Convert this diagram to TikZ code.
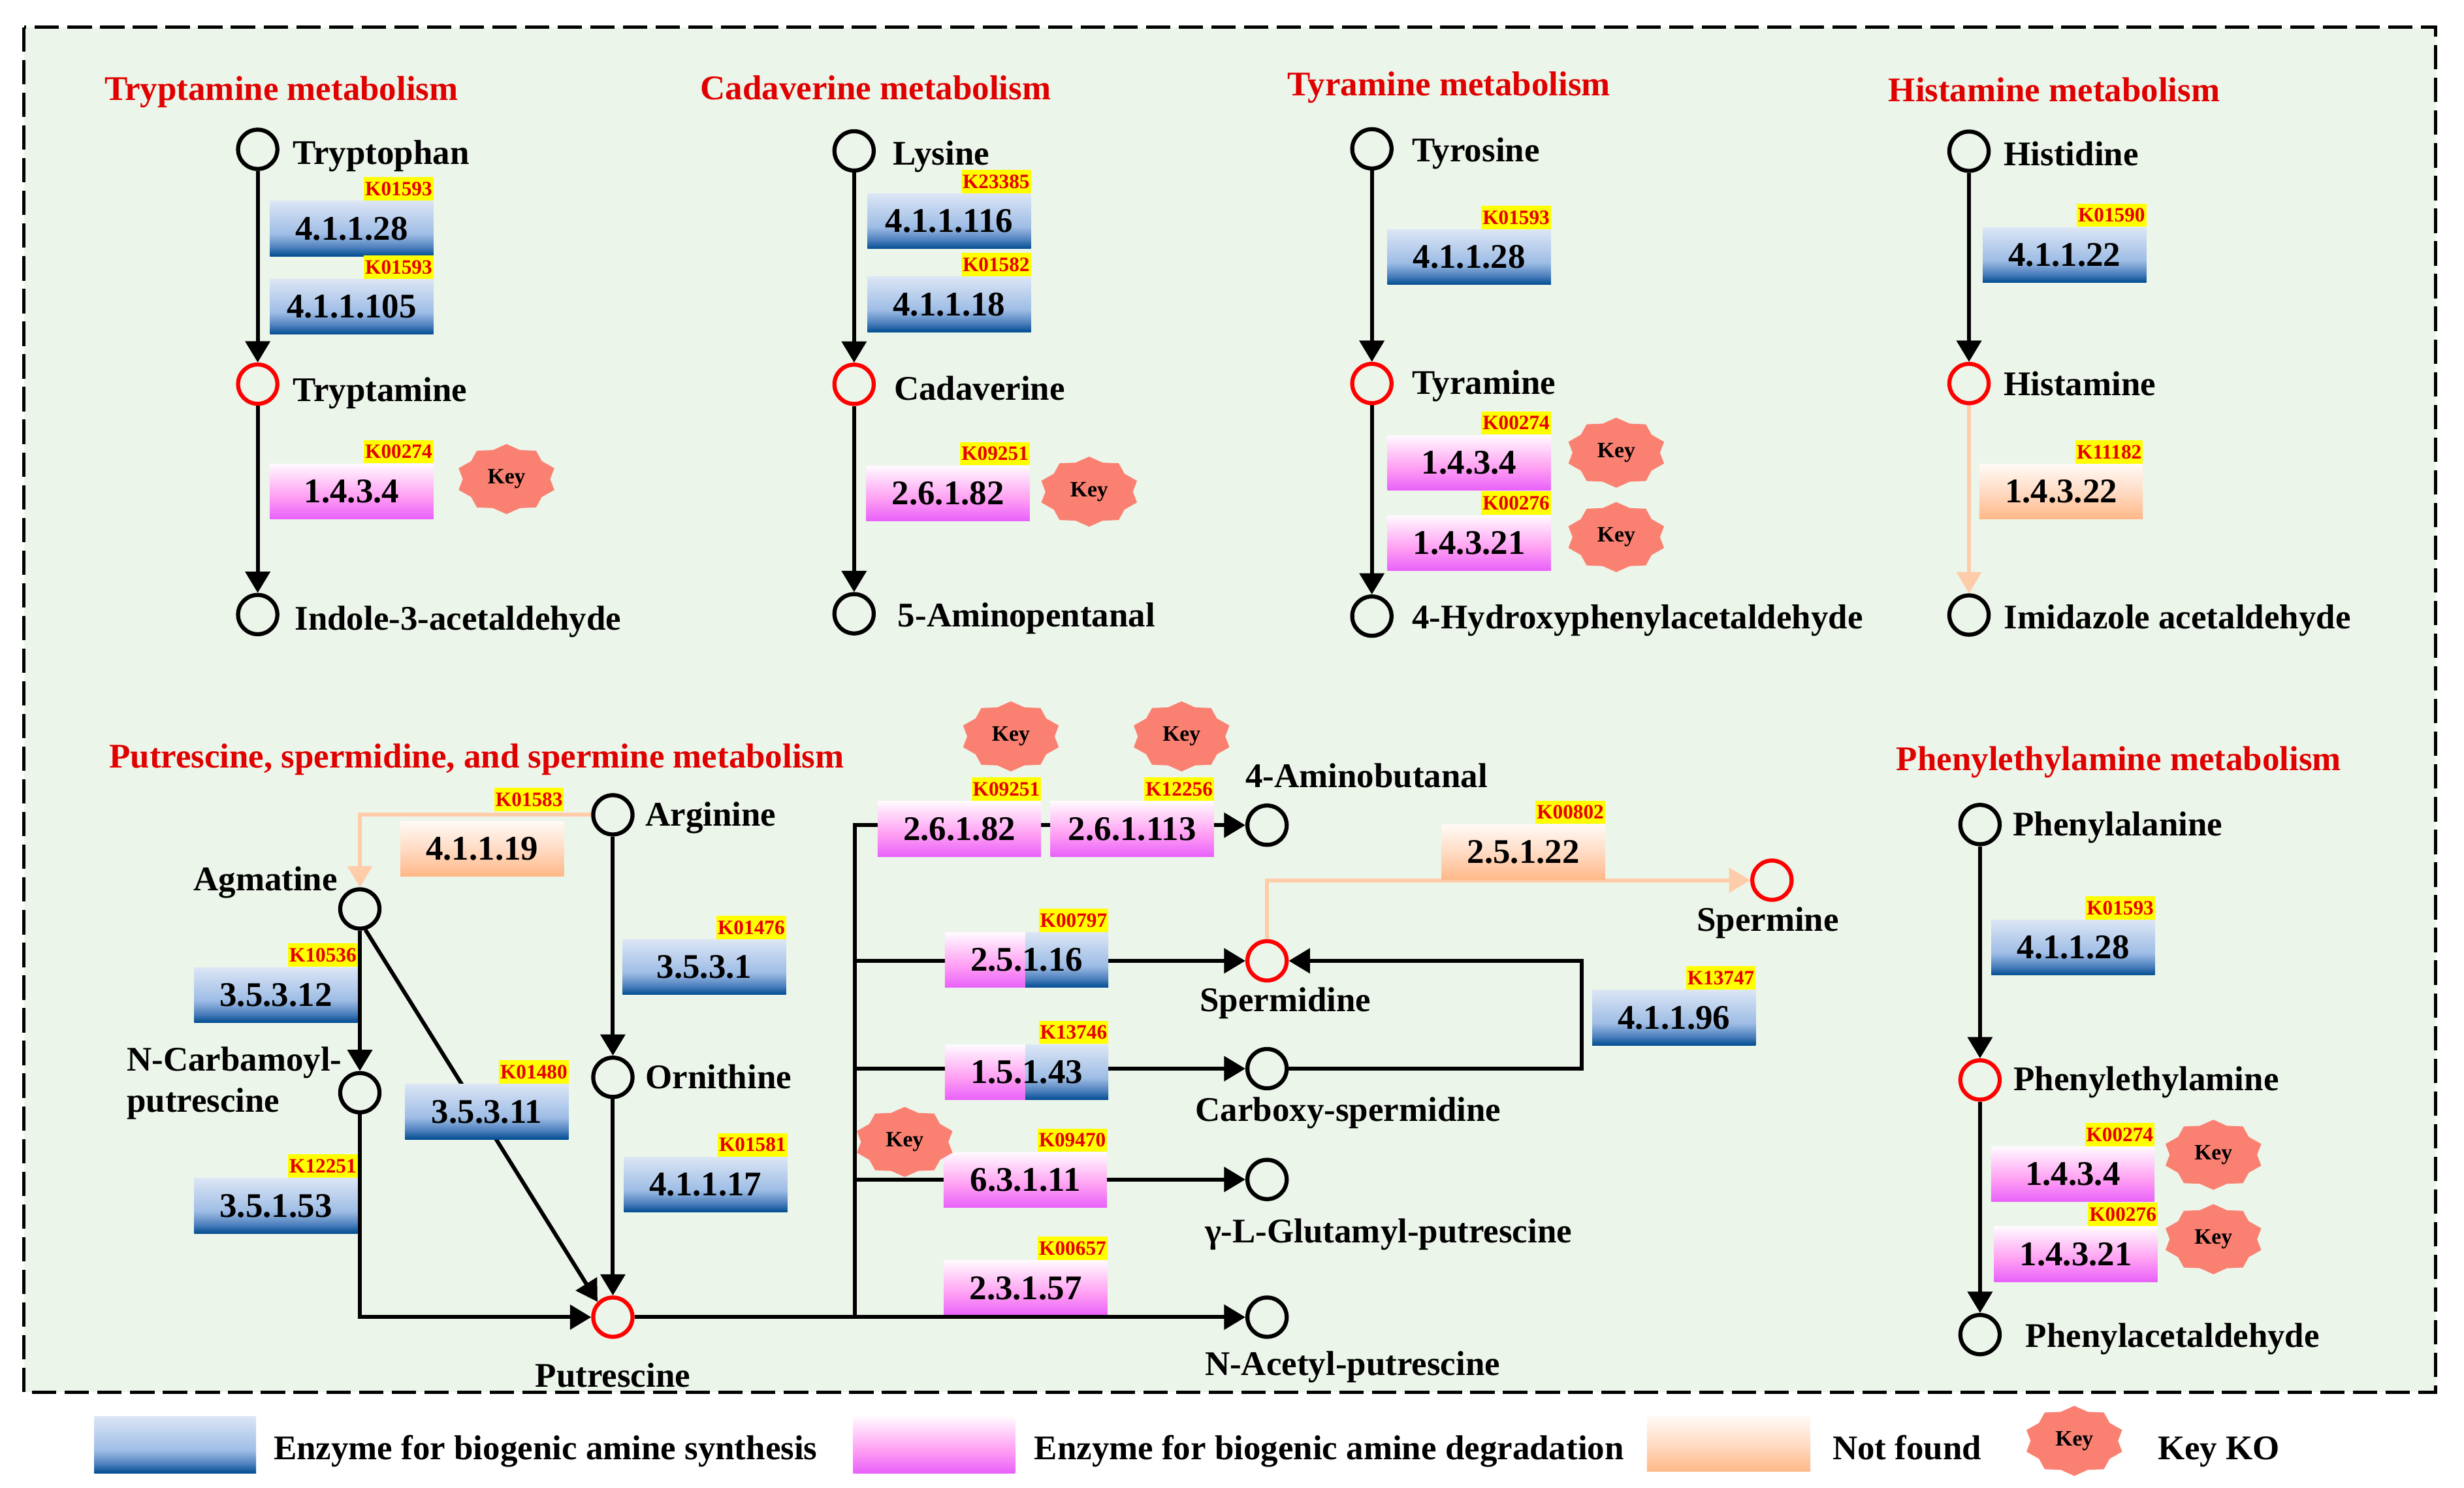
\documentclass[tikz,border=0pt]{standalone}
\usepackage{fontspec}
\setmainfont{Liberation Serif}
\usetikzlibrary{arrows.meta}
\definecolor{bggreen}{RGB}{236,245,233}
\definecolor{titlered}{RGB}{224,0,0}
\definecolor{peachline}{RGB}{255,204,170}
\definecolor{keyfill}{RGB}{250,128,114}
\definecolor{kyellow}{RGB}{255,255,0}
\definecolor{kred}{RGB}{230,0,0}
\pgfdeclareverticalshading{synsh}{100bp}{rgb(0bp)=(0,.3,.57); rgb(25bp)=(0,.3,.57); rgb(33bp)=(.3,.5,.74); rgb(45bp)=(.62,.74,.9); rgb(75bp)=(.86,.9,.96); rgb(100bp)=(.86,.9,.96)}
\pgfdeclareverticalshading{degsh}{100bp}{rgb(0bp)=(.91,.38,.98); rgb(25bp)=(.91,.38,.98); rgb(45bp)=(1,.62,.95); rgb(75bp)=(1,.98,1); rgb(100bp)=(1,.98,1)}
\pgfdeclareverticalshading{nfsh}{100bp}{rgb(0bp)=(1,.72,.53); rgb(25bp)=(1,.72,.53); rgb(50bp)=(1,.86,.77); rgb(75bp)=(1,.98,.96); rgb(100bp)=(1,.98,.96)}
\newcommand\bigtxt{\bfseries\fontsize{22}{24}\selectfont}
\newcommand\ktxt{\bfseries\fontsize{13}{14}\selectfont}
\newcommand\keytxt{\bfseries\fontsize{14}{15}\selectfont}
\pgfdeclarelayer{bg}
\pgfdeclarelayer{edges}
\pgfsetlayers{bg,edges,main}
\tikzset{
  met/.style={circle, draw=black, line width=2.6pt, minimum size=25pt, inner sep=0pt, fill=bggreen},
  metr/.style={met, draw=red},
  lab/.style={anchor=base west, inner sep=0pt, font=\bigtxt},
  ttl/.style={anchor=base west, inner sep=0pt, font=\bigtxt, text=titlered},
  enzbase/.style={rectangle, minimum width=104pt, minimum height=35pt, inner sep=0pt, font=\bigtxt},
  syn/.style={enzbase, shade, shading=synsh},
  deg/.style={enzbase, shade, shading=degsh},
  nf/.style={enzbase, shade, shading=nfsh},
  klab/.style={rectangle, fill=kyellow, text=kred, font=\ktxt, inner xsep=0.8pt, inner ysep=0pt, minimum height=14.8pt, anchor=south east},
  keylab/.style={font=\keytxt, inner sep=0pt},
  arr/.style={line width=2.5pt, -{Triangle[length=13.5pt,width=15.5pt]}},
  parr/.style={arr, draw=peachline},
  ln/.style={line width=2.5pt}
}
\newcommand\keystar[3]{%
  \begin{scope}[shift={(#2,#3)}]
    \fill[keyfill] (90:32 and 22.3) foreach \a in {126,162,...,450}{ -- ({\a-18}:27.8 and 19.4) -- (\a:32 and 22.3)} -- cycle;
  \end{scope}
  \node[keylab] (#1) at (#2,#3) {Key};
}
\newcommand\kl[2]{\node[klab] (#1k) at (#1.north east) {#2};}
\begin{document}
\begin{tikzpicture}[x=1pt,y=-1pt]
\useasboundingbox (0,0) rectangle (1568,946.7);
\begin{pgfonlayer}{bg}
\fill[white] (0,0) rectangle (1568,946.7);
\draw[fill=bggreen, line width=2.1pt, dash pattern=on 15.5pt off 5.3pt] (15.2,17.4) rectangle (1550,885.8);
\end{pgfonlayer}

% titles
\node[ttl] (t1) at (66.3,63.6) {Tryptamine metabolism};
\node[ttl] (t2) at (445.5,63.2) {Cadaverine metabolism};
\node[ttl] (t3) at (819.1,60.7) {Tyramine metabolism};
\node[ttl] (t4) at (1201.6,64.7) {Histamine metabolism};
\node[ttl] (t5) at (69.3,488.4) {Putrescine, spermidine, and spermine metabolism};
\node[ttl] (t6) at (1206.6,490) {Phenylethylamine metabolism};

% metabolites
\node[met] (trp) at (164,95) {};
\node[metr] (trm) at (164,244.4) {};
\node[met] (ind) at (164,391) {};
\node[met] (lys) at (543.5,96) {};
\node[metr] (cad) at (543.5,244.5) {};
\node[met] (amp) at (543.5,390.5) {};
\node[met] (tyr) at (873,94.7) {};
\node[metr] (tym) at (873,244) {};
\node[met] (hpa) at (873,392) {};
\node[met] (his) at (1253,96.2) {};
\node[metr] (hsm) at (1253,244) {};
\node[met] (ima) at (1253,391.3) {};
\node[met] (phe) at (1260,524.6) {};
\node[metr] (pea) at (1260,687.1) {};
\node[met] (pac) at (1260,849.1) {};
\node[met] (arg) at (390,518.4) {};
\node[met] (agm) at (229,578.3) {};
\node[met] (ncb) at (229,695.2) {};
\node[met] (orn) at (390,685.4) {};
\node[metr] (put) at (390,838) {};
\node[met] (abu) at (806.3,525) {};
\node[metr] (spd) at (806.3,611.3) {};
\node[met] (csp) at (806.3,679.9) {};
\node[met] (glu) at (806.3,750.4) {};
\node[met] (nac) at (806.3,838) {};
\node[metr] (spm) at (1127.6,560) {};

% labels
\node[lab] (trpL) at (186.3,104.7) {Tryptophan};
\node[lab] (trmL) at (186.3,255.3) {Tryptamine};
\node[lab] (indL) at (187.4,400.7) {Indole-3-acetaldehyde};
\node[lab] (lysL) at (568.3,105) {Lysine};
\node[lab] (cadL) at (568.8,254.6) {Cadaverine};
\node[lab] (ampL) at (571.2,398.9) {5-Aminopentanal};
\node[lab] (tyrL) at (898.5,103) {Tyrosine};
\node[lab] (tymL) at (898.5,251) {Tyramine};
\node[lab] (hpaL) at (898.5,400.2) {4-Hydroxyphenylacetaldehyde};
\node[lab] (hisL) at (1275.1,105.5) {Histidine};
\node[lab] (hsmL) at (1275.1,251.6) {Histamine};
\node[lab] (imaL) at (1275.1,400.2) {Imidazole acetaldehyde};
\node[lab] (pheL) at (1280.8,531.8) {Phenylalanine};
\node[lab] (peaL) at (1281.3,693.8) {Phenylethylamine};
\node[lab] (pacL) at (1288.9,857.1) {Phenylacetaldehyde};
\node[lab] (argL) at (410.6,525.4) {Arginine};
\node[lab] (ornL) at (410.6,692.4) {Ornithine};
\node[lab, anchor=base east] (agmL) at (215,566.5) {Agmatine};
\node[lab] (ncbL1) at (80.5,681.3) {N-Carbamoyl-};
\node[lab] (ncbL2) at (80.5,707.7) {putrescine};
\node[lab, anchor=base] (putL) at (390,882.5) {Putrescine};
\node[lab] (abuL) at (792.4,501.1) {4-Aminobutanal};
\node[lab, anchor=base] (spmL) at (1125,592.4) {Spermine};
\node[lab] (spdL) at (763.4,643.4) {Spermidine};
\node[lab] (cspL) at (760.6,713.4) {Carboxy-spermidine};
\node[lab] (gluL) at (766.6,790.7) {γ-L-Glutamyl-putrescine};
\node[lab] (nacL) at (766.6,875.2) {N-Acetyl-putrescine};

% bus coordinates
\coordinate (bTop) at (543.9,525);
\coordinate (bBot) at (543.9,838);
\coordinate (b2) at (543.9,611.3);
\coordinate (b3) at (543.9,679.9);
\coordinate (b4) at (543.9,750.4);
\coordinate (lp) at (1006.4,645);

% connectors
\begin{pgfonlayer}{edges}
\draw[arr] (trp.south) -- (trm.north);
\draw[arr] (trm.south) -- (ind.north);
\draw[arr] (lys.south) -- (cad.north);
\draw[arr] (cad.south) -- (amp.north);
\draw[arr] (tyr.south) -- (tym.north);
\draw[arr] (tym.south) -- (hpa.north);
\draw[arr] (his.south) -- (hsm.north);
\draw[parr] (hsm.south) -- (ima.north);
\draw[arr] (phe.south) -- (pea.north);
\draw[arr] (pea.south) -- (pac.north);
\draw[parr] (arg.west) -| (agm.north);
\draw[arr] (arg.south) -- (orn.north);
\draw[arr] (orn.south) -- (put.north);
\draw[arr] (agm.south) -- (ncb.north);
\draw[arr] (agm.-75) -- (put.north west);
\draw[arr] (ncb.south) |- (put.west);
\draw[arr] (bBot) -- (bTop) -- (abu.west);
\draw[arr] (b2) -- (spd.west);
\draw[arr] (b3) -- (csp.west);
\draw[arr] (b4) -- (glu.west);
\draw[arr] (csp.east) -| (lp) |- (spd.east);
\draw[parr] (spd.north) |- (spm.west);
\end{pgfonlayer}

% enzymes
\node[syn] (e1) at (223.8,145.5) {4.1.1.28}; \kl{e1}{K01593}
\node[syn] (e2) at (223.8,195.2) {4.1.1.105}; \kl{e2}{K01593}
\node[deg] (e3) at (223.8,312.6) {1.4.3.4}; \kl{e3}{K00274}
\node[syn] (e4) at (604,140.8) {4.1.1.116}; \kl{e4}{K23385}
\node[syn] (e5) at (604,193.7) {4.1.1.18}; \kl{e5}{K01582}
\node[deg] (e6) at (603.3,313.9) {2.6.1.82}; \kl{e6}{K09251}
\node[syn] (e7) at (934.9,163.6) {4.1.1.28}; \kl{e7}{K01593}
\node[deg] (e8) at (934.9,294.4) {1.4.3.4}; \kl{e8}{K00274}
\node[deg] (e9) at (934.9,345.4) {1.4.3.21}; \kl{e9}{K00276}
\node[syn] (e10) at (1313.8,162.3) {4.1.1.22}; \kl{e10}{K01590}
\node[nf] (e11) at (1311.6,312.8) {1.4.3.22}; \kl{e11}{K11182}
\node[syn] (e12) at (1319.3,602.9) {4.1.1.28}; \kl{e12}{K01593}
\node[deg] (e13) at (1319,747.1) {1.4.3.4}; \kl{e13}{K00274}
\node[deg] (e14) at (1321,797.9) {1.4.3.21}; \kl{e14}{K00276}
\node[nf] (e15) at (306.8,540) {4.1.1.19};
\node[klab] (e15k) at ([yshift=6.1pt]e15.north east) {K01583};
\node[syn] (e16) at (175.6,633) {3.5.3.12}; \kl{e16}{K10536}
\node[syn] (e17) at (175.6,767.2) {3.5.1.53}; \kl{e17}{K12251}
\node[syn] (e18) at (309.8,707.3) {3.5.3.11}; \kl{e18}{K01480}
\node[syn] (e19) at (448.2,615.4) {3.5.3.1}; \kl{e19}{K01476}
\node[syn] (e20) at (449,753.7) {4.1.1.17}; \kl{e20}{K01581}
\node[deg] (e21) at (610.5,527.4) {2.6.1.82}; \kl{e21}{K09251}
\node[deg] (e22) at (720.5,527.4) {2.6.1.113}; \kl{e22}{K12256}
\node[nf] (e23) at (969.4,542.1) {2.5.1.22}; \kl{e23}{K00802}
\shade[shading=degsh] (601.3,593.3) rectangle (652.5,628.3);
\shade[shading=synsh] (652.5,593.3) rectangle (705.3,628.3);
\node[enzbase] (e24) at (653.3,610.8) {2.5.1.16}; \kl{e24}{K00797}
\shade[shading=degsh] (601.3,664.7) rectangle (652.5,699.7);
\shade[shading=synsh] (652.5,664.7) rectangle (705.3,699.7);
\node[enzbase] (e25) at (653.3,682.2) {1.5.1.43}; \kl{e25}{K13746}
\node[syn] (e26) at (1065.2,647.5) {4.1.1.96}; \kl{e26}{K13747}
\node[deg] (e27) at (652.5,750.7) {6.3.1.11}; \kl{e27}{K09470}
\node[deg] (e28) at (652.7,819.5) {2.3.1.57}; \kl{e28}{K00657}
\draw[arr] (put.east) -- (nac.west);

% key stars
\keystar{k1}{322.3}{304.8}
\keystar{k2}{693.1}{312.8}
\keystar{k3}{1028.5}{288}
\keystar{k4}{1028.5}{341.7}
\keystar{k5}{643.3}{468.5}
\keystar{k6}{751.9}{468.5}
\keystar{k7}{575.7}{726.5}
\keystar{k8}{1408.5}{734.7}
\keystar{k9}{1408.5}{788.4}

% legend
\node[syn, minimum width=103pt, minimum height=36pt] (lg1) at (111.5,919.2) {};
\node[lab] (lg1t) at (174,928.8) {Enzyme for biogenic amine synthesis};
\node[deg, minimum width=103pt, minimum height=36pt] (lg2) at (594.5,919.2) {};
\node[lab] (lg2t) at (658,928.8) {Enzyme for biogenic amine degradation};
\node[nf, minimum width=104pt, minimum height=35pt] (lg3) at (1100,918.8) {};
\node[lab] (lg3t) at (1166,928.8) {Not found};
\keystar{lgk}{1320}{916.7}
\node[lab] (lg4t) at (1373,928.8) {Key KO};
\end{tikzpicture}
\end{document}
